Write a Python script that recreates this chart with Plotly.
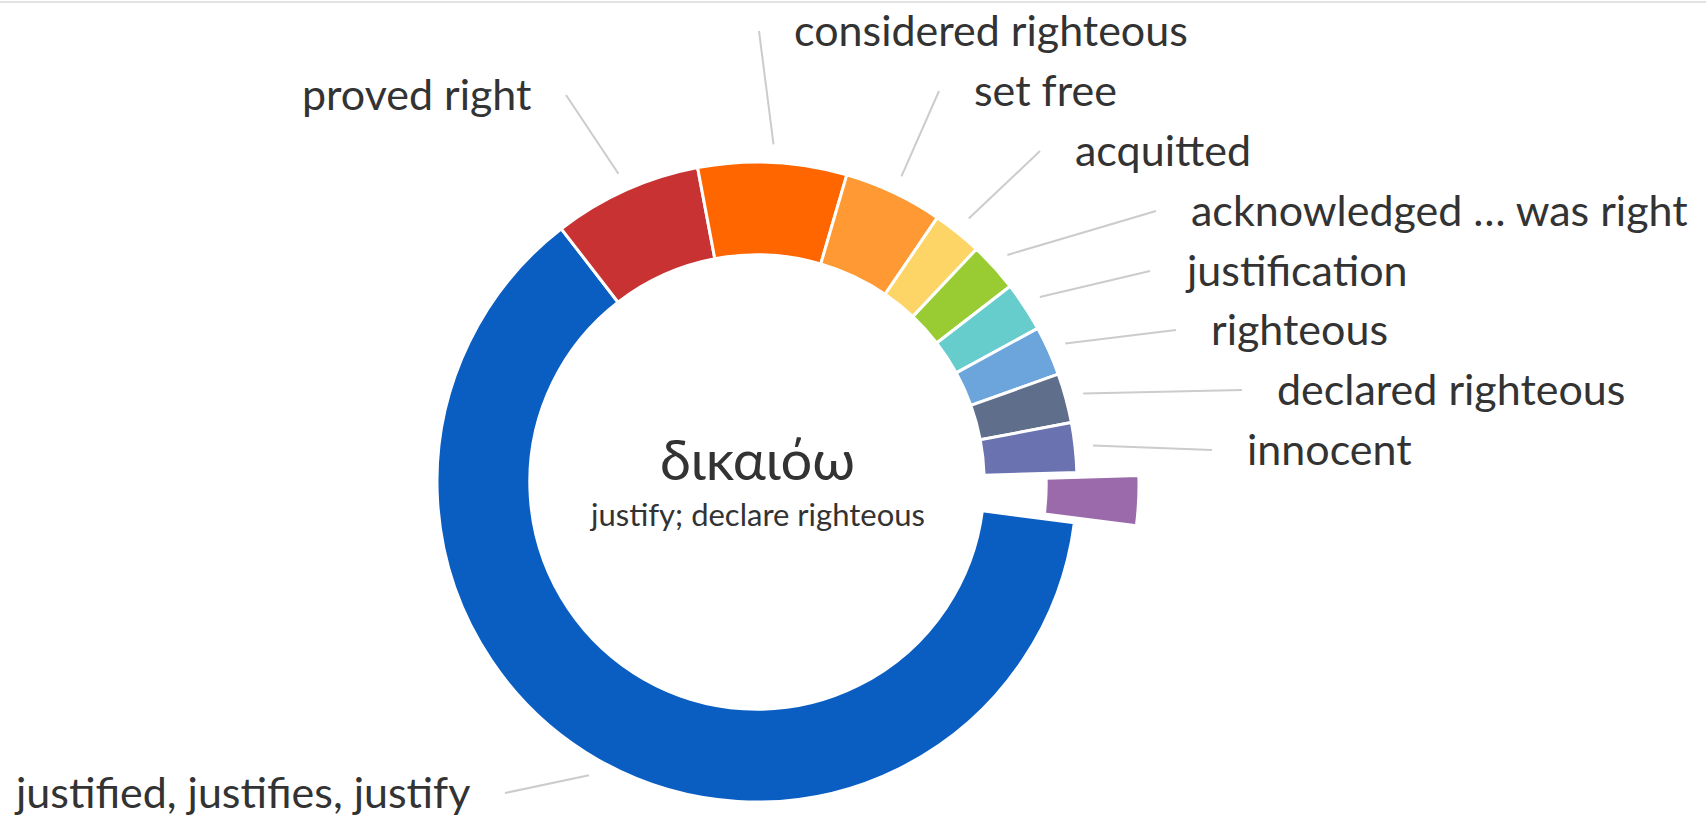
import math
import plotly.graph_objects as go

# ---- data ----
labels = ["justified, justifies, justify", "proved right", "considered righteous",
          "set free", "acquitted", "acknowledged … was right", "justification",
          "righteous", "declared righteous", "innocent", "(other)"]
values = [25, 3, 3, 2, 1, 1, 1, 1, 1, 1, 1]
show_label = [True] * 10 + [False]
colors = ["#0a5ec2", "#c83232", "#ff6600", "#ff9933", "#fdd466", "#99cc33",
          "#66cccc", "#6ca4dc", "#5f6e8a", "#6b72b0", "#9a6aaa"]
title_text = "δικαιόω"
subtitle_text = "justify; declare righteous"

# ---- layout / styling ----
W, H = 1706, 820
CX, CY, R = 757, 482, 320      # pie centre and outer radius in px
HOLE = 0.71
ROTATION = 97.3                 # start angle of first slice (clockwise from 12 o'clock)
PULL_IDX = 10
PULL_FRAC = 0.194
FONT = "Lato, 'Noto Sans', sans-serif"
LABEL_SIZE = 43
TEXT_COLOR = "#333333"
# label anchors: (edge x px, connector y px, side)
label_pos = [(472, 793, "left"), (533, 95, "left"), (792, 31, "right"),
             (972, 91, "right"), (1073, 151, "right"), (1189, 211, "right"),
             (1183, 271, "right"), (1209, 330, "right"), (1275, 390, "right"),
             (1245, 450, "right"), None]


def px(x):
    return x / W


def py(y):
    return 1 - y / H


total = sum(values)
mids = []
acc = 0
for v in values:
    mids.append(ROTATION + (acc + v / 2) / total * 360)
    acc += v


def pie_domain(dx=0.0, dy=0.0):
    return dict(x=[px(CX - R + dx), px(CX + R + dx)],
                y=[py(CY + R + dy), py(CY - R + dy)])


main_colors = [c if i != PULL_IDX else "rgba(0,0,0,0)" for i, c in enumerate(colors)]
main_lines = ["white" if i != PULL_IDX else "rgba(0,0,0,0)" for i in range(len(values))]
pull_colors = [c if i == PULL_IDX else "rgba(0,0,0,0)" for i, c in enumerate(colors)]
pull_lines = ["white" if i == PULL_IDX else "rgba(0,0,0,0)" for i in range(len(values))]

a = math.radians(mids[PULL_IDX])
pdx = PULL_FRAC * R * math.sin(a)
pdy = -PULL_FRAC * R * math.cos(a)

fig = go.Figure()
fig.add_trace(go.Pie(labels=labels, values=values, sort=False, direction="clockwise",
                     rotation=ROTATION, hole=HOLE, textinfo="none",
                     marker=dict(colors=main_colors, line=dict(color=main_lines, width=3)),
                     domain=pie_domain(), showlegend=False, hoverinfo="label+value"))
fig.add_trace(go.Pie(labels=labels, values=values, sort=False, direction="clockwise",
                     rotation=ROTATION, hole=HOLE, textinfo="none",
                     marker=dict(colors=pull_colors, line=dict(color=pull_lines, width=3)),
                     domain=pie_domain(pdx, pdy), showlegend=False, hoverinfo="label+value"))

shapes = []
annotations = []
for i, lab in enumerate(labels):
    if not show_label[i]:
        continue
    ex, ly, side = label_pos[i]
    a = math.radians(mids[i])
    r0 = R + 18
    sx, sy = CX + r0 * math.sin(a), CY - r0 * math.cos(a)
    endx = ex + 33 if side == "left" else ex - 33
    shapes.append(dict(type="line", xref="paper", yref="paper",
                       x0=px(sx), y0=py(sy), x1=px(endx), y1=py(ly),
                       line=dict(color="#cccccc", width=2)))
    annotations.append(dict(text=lab, xref="paper", yref="paper",
                            x=px(ex), y=py(ly + 15 - 0.39 * LABEL_SIZE),
                            xanchor="right" if side == "left" else "left",
                            yanchor="middle", showarrow=False,
                            font=dict(family=FONT, size=LABEL_SIZE, color=TEXT_COLOR)))

annotations.append(dict(text=title_text, xref="paper", yref="paper",
                        x=px(CX), y=py(458), xanchor="center", yanchor="middle",
                        showarrow=False,
                        font=dict(family=FONT, size=56, color=TEXT_COLOR)))
annotations.append(dict(text=subtitle_text, xref="paper", yref="paper",
                        x=px(CX), y=py(514), xanchor="center", yanchor="middle",
                        showarrow=False,
                        font=dict(family=FONT, size=31, color=TEXT_COLOR)))

shapes.append(dict(type="line", xref="paper", yref="paper", x0=0, x1=1,
                   y0=py(2), y1=py(2), line=dict(color="#e2e2e2", width=2)))

fig.update_layout(width=W, height=H, margin=dict(l=0, r=0, t=0, b=0),
                  paper_bgcolor="white", plot_bgcolor="white",
                  shapes=shapes, annotations=annotations)

fig.write_html("out.html", config={"displayModeBar": False},
               post_script="document.body.style.margin='0';document.body.style.overflow='hidden';")
